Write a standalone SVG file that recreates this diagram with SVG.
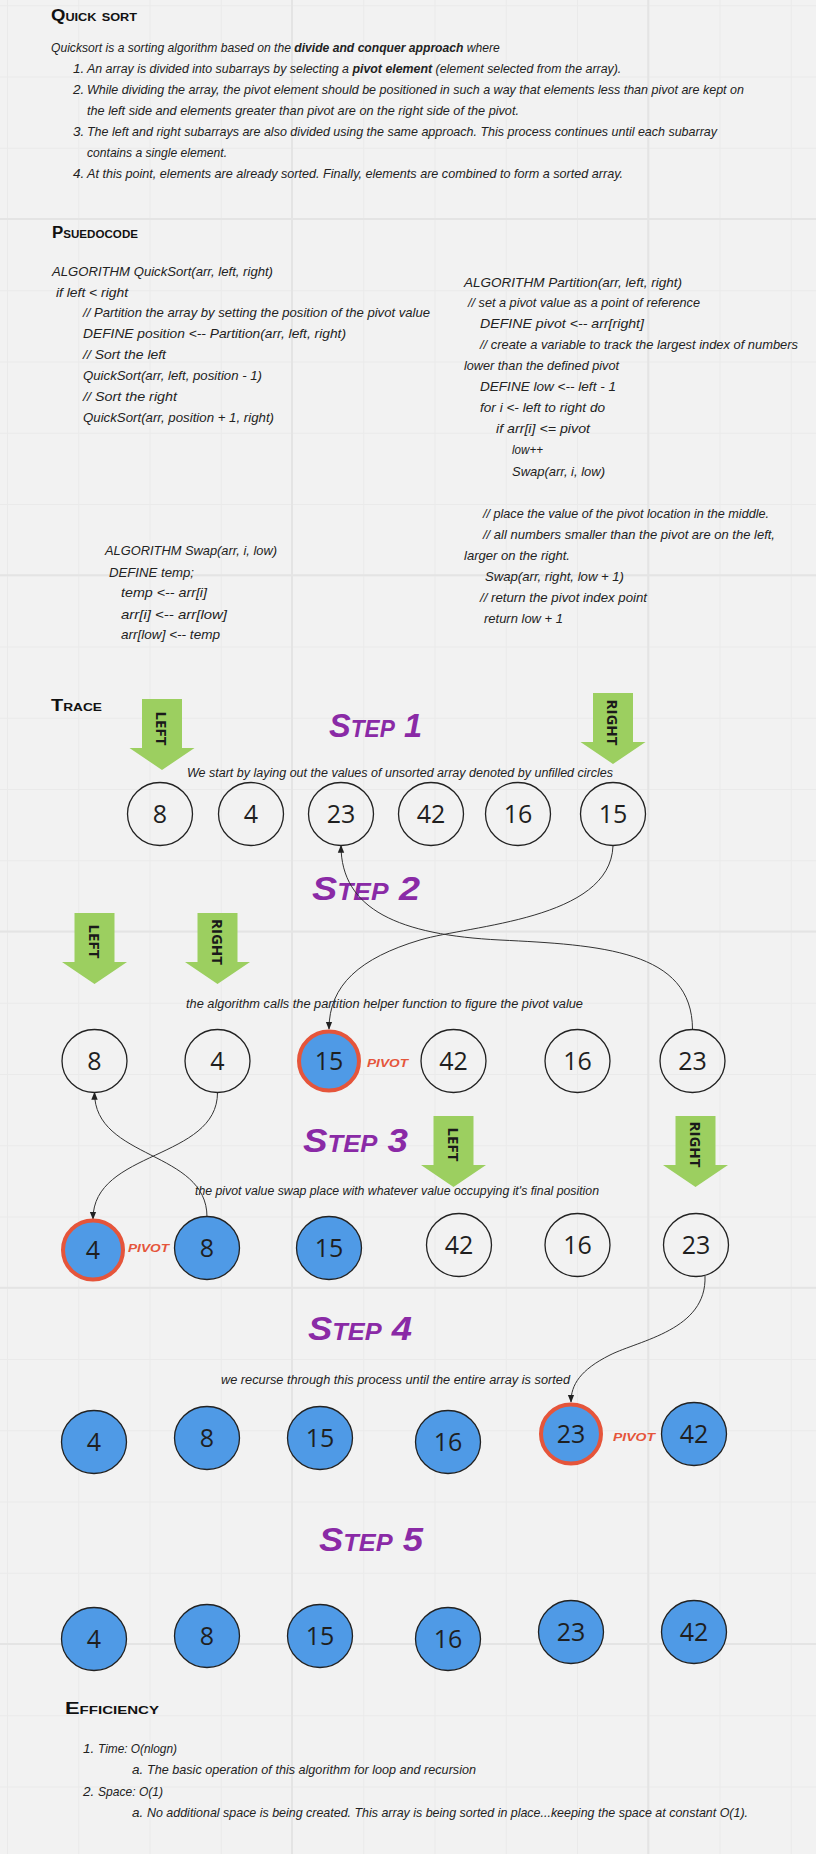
<svg xmlns="http://www.w3.org/2000/svg" width="816" height="1854" viewBox="0 0 816 1854">
<style>
.hand{font-family:"Liberation Sans",Arial,sans-serif;font-style:italic;font-size:13.5px;fill:#222}
.code{font-family:"Liberation Sans",Arial,sans-serif;font-style:italic;font-size:13.5px;fill:#222}
.cap{font-family:"Liberation Sans",Arial,sans-serif;font-style:italic;font-size:12.5px;fill:#222}
.head{font-family:"Liberation Sans",Arial,sans-serif;font-weight:bold;font-variant:small-caps;font-size:16px;fill:#111}
.step{font-family:"Liberation Sans",Arial,sans-serif;font-weight:bold;font-style:italic;font-variant:small-caps;font-size:33px;fill:#8a2aa6}
.num{font-family:"Open Sans",sans-serif;font-size:25px;text-anchor:middle;fill:#1f1f1f}
.piv{font-family:"Liberation Sans",Arial,sans-serif;font-weight:bold;font-style:italic;font-variant:small-caps;font-size:14px;fill:#e5553b}
.lbl{font-family:"Open Sans",sans-serif;font-weight:bold;font-size:15px;text-anchor:middle;dominant-baseline:central;fill:#1a1a1a}
.open{fill:none;stroke:#222;stroke-width:1.3}
.blue{fill:#4f9ae6;stroke:#222;stroke-width:1.3}
.pivc{fill:#4f9ae6;stroke:#e5553b;stroke-width:4}
.conn{fill:none;stroke:#333;stroke-width:1}
.b{font-weight:bold}
</style>
<defs>
<pattern id="gMinor" x="7" y="5.25" width="71.25" height="71.25" patternUnits="userSpaceOnUse"><path d="M0,0.5 H71.25 M0.5,0 V71.25" stroke="#eaeaea" stroke-width="1" fill="none"/></pattern>
<pattern id="gMajor" x="-65.25" y="-138.25" width="356.25" height="356.25" patternUnits="userSpaceOnUse"><path d="M0,1 H356.25 M1,0 V356.25" stroke="#e4e4e4" stroke-width="2" fill="none"/></pattern>
<path id="dn" d="M-20,0 H20 V49 H32.5 L0,71 L-32.5,49 H-20 Z" fill="#9ccf60"/>
<marker id="ah" viewBox="0 0 10 10" refX="9" refY="5" markerWidth="8" markerHeight="8" markerUnits="userSpaceOnUse" orient="auto"><path d="M0,1 L10,5 L0,9 Z" fill="#222"/></marker>
</defs>
<rect width="816" height="1854" fill="#f2f2f2"/>
<rect width="816" height="1854" fill="url(#gMinor)"/>
<rect width="816" height="1854" fill="url(#gMajor)"/>

<g id="intro">
<text class="head" x="51" y="21" textLength="86" lengthAdjust="spacingAndGlyphs">Quick sort</text>
<text class="hand" transform="translate(51,52) scale(0.8985,1)">Quicksort is a sorting algorithm based on the <tspan class="b">divide and conquer approach</tspan> where</text>
<text class="hand" x="73" y="73">1.</text>
<text class="hand" transform="translate(87,73) scale(0.9177,1)">An array is divided into subarrays by selecting a <tspan class="b">pivot element</tspan> (element selected from the array).</text>
<text class="hand" x="73" y="94">2.</text>
<text class="hand" x="87" y="94" textLength="657" lengthAdjust="spacingAndGlyphs">While dividing the array, the pivot element should be positioned in such a way that elements less than pivot are kept on</text>
<text class="hand" x="87" y="115" textLength="432" lengthAdjust="spacingAndGlyphs">the left side and elements greater than pivot are on the right side of the pivot.</text>
<text class="hand" x="73" y="136">3.</text>
<text class="hand" x="87" y="136" textLength="630" lengthAdjust="spacingAndGlyphs">The left and right subarrays are also divided using the same approach. This process continues until each subarray</text>
<text class="hand" x="87" y="157" textLength="140" lengthAdjust="spacingAndGlyphs">contains a single element.</text>
<text class="hand" x="73" y="178">4.</text>
<text class="hand" x="87" y="178" textLength="536" lengthAdjust="spacingAndGlyphs">At this point, elements are already sorted. Finally, elements are combined to form a sorted array.</text>
</g>

<g id="pseudocode">
<text class="head" x="52" y="238" textLength="86" lengthAdjust="spacingAndGlyphs">Psuedocode</text>
<text class="code" x="52" y="276" textLength="221" lengthAdjust="spacingAndGlyphs">ALGORITHM QuickSort(arr, left, right)</text>
<text class="code" x="56" y="297" textLength="72" lengthAdjust="spacingAndGlyphs">if left &lt; right</text>
<text class="code" x="83" y="317" textLength="347" lengthAdjust="spacingAndGlyphs">// Partition the array by setting the position of the pivot value</text>
<text class="code" x="83" y="338" textLength="263" lengthAdjust="spacingAndGlyphs">DEFINE position &lt;-- Partition(arr, left, right)</text>
<text class="code" x="83" y="359" textLength="83" lengthAdjust="spacingAndGlyphs">// Sort the left</text>
<text class="code" x="83" y="380" textLength="179" lengthAdjust="spacingAndGlyphs">QuickSort(arr, left, position - 1)</text>
<text class="code" x="83" y="401" textLength="94" lengthAdjust="spacingAndGlyphs">// Sort the right</text>
<text class="code" x="83" y="422" textLength="191" lengthAdjust="spacingAndGlyphs">QuickSort(arr, position + 1, right)</text>
</g>

<g id="partition">
<text class="code" x="464" y="287" textLength="218" lengthAdjust="spacingAndGlyphs">ALGORITHM Partition(arr, left, right)</text>
<text class="code" x="468" y="307" textLength="232" lengthAdjust="spacingAndGlyphs">// set a pivot value as a point of reference</text>
<text class="code" x="480" y="328" textLength="164" lengthAdjust="spacingAndGlyphs">DEFINE pivot &lt;-- arr[right]</text>
<text class="code" x="480" y="349" textLength="318" lengthAdjust="spacingAndGlyphs">// create a variable to track the largest index of numbers</text>
<text class="code" x="464" y="370" textLength="155" lengthAdjust="spacingAndGlyphs">lower than the defined pivot</text>
<text class="code" x="480" y="391" textLength="136" lengthAdjust="spacingAndGlyphs">DEFINE low &lt;-- left - 1</text>
<text class="code" x="480" y="412" textLength="125" lengthAdjust="spacingAndGlyphs">for i &lt;- left to right do</text>
<text class="code" x="496" y="433" textLength="94" lengthAdjust="spacingAndGlyphs">if arr[i] &lt;= pivot</text>
<text class="code" x="512" y="454" textLength="31" lengthAdjust="spacingAndGlyphs">low++</text>
<text class="code" x="512" y="476" textLength="93" lengthAdjust="spacingAndGlyphs">Swap(arr, i, low)</text>
<text class="code" x="483" y="518" textLength="286" lengthAdjust="spacingAndGlyphs">// place the value of the pivot location in the middle.</text>
<text class="code" x="483" y="539" textLength="292" lengthAdjust="spacingAndGlyphs">// all numbers smaller than the pivot are on the left,</text>
<text class="code" x="464" y="560" textLength="106" lengthAdjust="spacingAndGlyphs">larger on the right.</text>
<text class="code" x="485" y="581" textLength="139" lengthAdjust="spacingAndGlyphs">Swap(arr, right, low + 1)</text>
<text class="code" x="480" y="602" textLength="167" lengthAdjust="spacingAndGlyphs">// return the pivot index point</text>
<text class="code" x="484" y="623" textLength="79" lengthAdjust="spacingAndGlyphs">return low + 1</text>
</g>

<g id="swap">
<text class="code" x="105" y="555" textLength="172" lengthAdjust="spacingAndGlyphs">ALGORITHM Swap(arr, i, low)</text>
<text class="code" x="109" y="577" textLength="85" lengthAdjust="spacingAndGlyphs">DEFINE temp;</text>
<text class="code" x="121" y="597" textLength="86" lengthAdjust="spacingAndGlyphs">temp &lt;-- arr[i]</text>
<text class="code" x="121" y="619" textLength="106" lengthAdjust="spacingAndGlyphs">arr[i] &lt;-- arr[low]</text>
<text class="code" x="121" y="639" textLength="99" lengthAdjust="spacingAndGlyphs">arr[low] &lt;-- temp</text>
</g>

<g id="trace-title"><text class="head" x="51" y="711" textLength="51" lengthAdjust="spacingAndGlyphs">Trace</text></g>

<g id="step-titles">
<text class="step" x="329" y="737" textLength="93" lengthAdjust="spacingAndGlyphs">Step 1</text>
<text class="step" x="312" y="900" textLength="108" lengthAdjust="spacingAndGlyphs">Step 2</text>
<text class="step" x="303" y="1152" textLength="105" lengthAdjust="spacingAndGlyphs">Step 3</text>
<text class="step" x="308" y="1340" textLength="104" lengthAdjust="spacingAndGlyphs">Step 4</text>
<text class="step" x="319" y="1551" textLength="104" lengthAdjust="spacingAndGlyphs">Step 5</text>
</g>

<g id="captions">
<text class="cap" x="187" y="777" textLength="426" lengthAdjust="spacingAndGlyphs">We start by laying out the values of unsorted array denoted by unfilled circles</text>
<text class="cap" x="186" y="1008" textLength="397" lengthAdjust="spacingAndGlyphs">the algorithm calls the partition helper function to figure the pivot value</text>
<text class="cap" x="195" y="1195" textLength="404" lengthAdjust="spacingAndGlyphs">the pivot value swap place with whatever value occupying it's final position</text>
<text class="cap" x="221" y="1384" textLength="349" lengthAdjust="spacingAndGlyphs">we recurse through this process until the entire array is sorted</text>
</g>

<g id="pointers">
<g id="s1-left"><use href="#dn" x="162" y="699"/><text class="lbl" transform="translate(162,728.5) rotate(90)">LEFT</text></g>
<g id="s1-right"><use href="#dn" x="613" y="693"/><text class="lbl" transform="translate(613,722.5) rotate(90)">RIGHT</text></g>
<g id="s2-left"><use href="#dn" x="94.5" y="913"/><text class="lbl" transform="translate(94.5,941.5) rotate(90)">LEFT</text></g>
<g id="s2-right"><use href="#dn" x="217.5" y="913"/><text class="lbl" transform="translate(217.5,942) rotate(90)">RIGHT</text></g>
<g id="s3-left"><use href="#dn" x="453.5" y="1116"/><text class="lbl" transform="translate(453.5,1144.5) rotate(90)">LEFT</text></g>
<g id="s3-right"><use href="#dn" x="695.5" y="1116"/><text class="lbl" transform="translate(695.5,1144.5) rotate(90)">RIGHT</text></g>
</g>

<g id="connectors">
<path class="conn" marker-end="url(#ah)" d="M613,846 C610,920 470,925 420,940 C360,958 329,985 329,1029"/>
<path class="conn" marker-end="url(#ah)" d="M692.5,1029.5 C692.5,950 600,945 500,940 C400,935 341,910 341,845.5"/>
<path class="conn" marker-end="url(#ah)" d="M217.5,1092.5 C217.5,1160 93,1150 93,1219"/>
<path class="conn" marker-end="url(#ah)" d="M207,1217 C207,1150 94.5,1160 94.5,1092.5"/>
<path class="conn" marker-end="url(#ah)" d="M705,1276 C707,1330 640,1340 610,1355 C580,1370 571,1385 571,1402"/>
</g>

<g id="step1-array">
<g id="s1-8"><ellipse class="open" cx="160" cy="814" rx="32.5" ry="31.5"/><text class="num" x="160" y="823">8</text></g>
<g id="s1-4"><ellipse class="open" cx="251" cy="814" rx="32.5" ry="31.5"/><text class="num" x="251" y="823">4</text></g>
<g id="s1-23"><ellipse class="open" cx="341" cy="814" rx="32.5" ry="31.5"/><text class="num" x="341" y="823">23</text></g>
<g id="s1-42"><ellipse class="open" cx="431" cy="814" rx="32.5" ry="31.5"/><text class="num" x="431" y="823">42</text></g>
<g id="s1-16"><ellipse class="open" cx="518" cy="814" rx="32.5" ry="31.5"/><text class="num" x="518" y="823">16</text></g>
<g id="s1-15"><ellipse class="open" cx="613" cy="814" rx="32.5" ry="31.5"/><text class="num" x="613" y="823">15</text></g>
</g>

<g id="step2-array">
<g id="s2-8"><ellipse class="open" cx="94.5" cy="1061" rx="32.5" ry="31.5"/><text class="num" x="94.5" y="1070">8</text></g>
<g id="s2-4"><ellipse class="open" cx="217.5" cy="1061" rx="32.5" ry="31.5"/><text class="num" x="217.5" y="1070">4</text></g>
<g id="s2-15"><ellipse class="pivc" cx="329" cy="1061" rx="30" ry="29.5"/><text class="num" x="329" y="1070">15</text><text class="piv" x="367" y="1067" textLength="41" lengthAdjust="spacingAndGlyphs">pivot</text></g>
<g id="s2-42"><ellipse class="open" cx="453.5" cy="1061" rx="32.5" ry="31.5"/><text class="num" x="453.5" y="1070">42</text></g>
<g id="s2-16"><ellipse class="open" cx="577.5" cy="1061" rx="32.5" ry="31.5"/><text class="num" x="577.5" y="1070">16</text></g>
<g id="s2-23"><ellipse class="open" cx="692.5" cy="1061" rx="32.5" ry="31.5"/><text class="num" x="692.5" y="1070">23</text></g>
</g>

<g id="step3-array">
<g id="s3-4"><ellipse class="pivc" cx="93" cy="1250" rx="30" ry="29.5"/><text class="num" x="93" y="1259">4</text><text class="piv" x="128" y="1252" textLength="41" lengthAdjust="spacingAndGlyphs">pivot</text></g>
<g id="s3-8"><ellipse class="blue" cx="207" cy="1248" rx="32.5" ry="31.5"/><text class="num" x="207" y="1257">8</text></g>
<g id="s3-15"><ellipse class="blue" cx="329" cy="1248" rx="32.5" ry="31.5"/><text class="num" x="329" y="1257">15</text></g>
<g id="s3-42"><ellipse class="open" cx="459" cy="1245" rx="32.5" ry="31.5"/><text class="num" x="459" y="1254">42</text></g>
<g id="s3-16"><ellipse class="open" cx="577.5" cy="1245" rx="32.5" ry="31.5"/><text class="num" x="577.5" y="1254">16</text></g>
<g id="s3-23"><ellipse class="open" cx="696" cy="1245" rx="32.5" ry="31.5"/><text class="num" x="696" y="1254">23</text></g>
</g>

<g id="step4-array">
<g id="s4-4"><ellipse class="blue" cx="94" cy="1442" rx="32.5" ry="31.5"/><text class="num" x="94" y="1451">4</text></g>
<g id="s4-8"><ellipse class="blue" cx="207" cy="1438" rx="32.5" ry="31.5"/><text class="num" x="207" y="1447">8</text></g>
<g id="s4-15"><ellipse class="blue" cx="320" cy="1438" rx="32.5" ry="31.5"/><text class="num" x="320" y="1447">15</text></g>
<g id="s4-16"><ellipse class="blue" cx="448" cy="1442" rx="32.5" ry="31.5"/><text class="num" x="448" y="1451">16</text></g>
<g id="s4-23"><ellipse class="pivc" cx="571" cy="1434" rx="30" ry="29.5"/><text class="num" x="571" y="1443">23</text><text class="piv" x="613" y="1441" textLength="42" lengthAdjust="spacingAndGlyphs">pivot</text></g>
<g id="s4-42"><ellipse class="blue" cx="694" cy="1434" rx="32.5" ry="31.5"/><text class="num" x="694" y="1443">42</text></g>
</g>

<g id="step5-array">
<g id="s5-4"><ellipse class="blue" cx="94" cy="1639" rx="32.5" ry="31.5"/><text class="num" x="94" y="1648">4</text></g>
<g id="s5-8"><ellipse class="blue" cx="207" cy="1636" rx="32.5" ry="31.5"/><text class="num" x="207" y="1645">8</text></g>
<g id="s5-15"><ellipse class="blue" cx="320" cy="1636" rx="32.5" ry="31.5"/><text class="num" x="320" y="1645">15</text></g>
<g id="s5-16"><ellipse class="blue" cx="448" cy="1639" rx="32.5" ry="31.5"/><text class="num" x="448" y="1648">16</text></g>
<g id="s5-23"><ellipse class="blue" cx="571" cy="1632" rx="32.5" ry="31.5"/><text class="num" x="571" y="1641">23</text></g>
<g id="s5-42"><ellipse class="blue" cx="694" cy="1632" rx="32.5" ry="31.5"/><text class="num" x="694" y="1641">42</text></g>
</g>

<g id="efficiency">
<text class="head" x="65" y="1714" textLength="94" lengthAdjust="spacingAndGlyphs">Efficiency</text>
<text class="hand" x="83" y="1753">1.</text>
<text class="hand" x="98" y="1753" textLength="79" lengthAdjust="spacingAndGlyphs">Time: O(nlogn)</text>
<text class="hand" x="132" y="1774">a.</text>
<text class="hand" x="147" y="1774" textLength="329" lengthAdjust="spacingAndGlyphs">The basic operation of this algorithm for loop and recursion</text>
<text class="hand" x="83" y="1796">2.</text>
<text class="hand" x="98" y="1796" textLength="65" lengthAdjust="spacingAndGlyphs">Space: O(1)</text>
<text class="hand" x="132" y="1817">a.</text>
<text class="hand" x="147" y="1817" textLength="601" lengthAdjust="spacingAndGlyphs">No additional space is being created. This array is being sorted in place...keeping the space at constant O(1).</text>
</g>
</svg>
